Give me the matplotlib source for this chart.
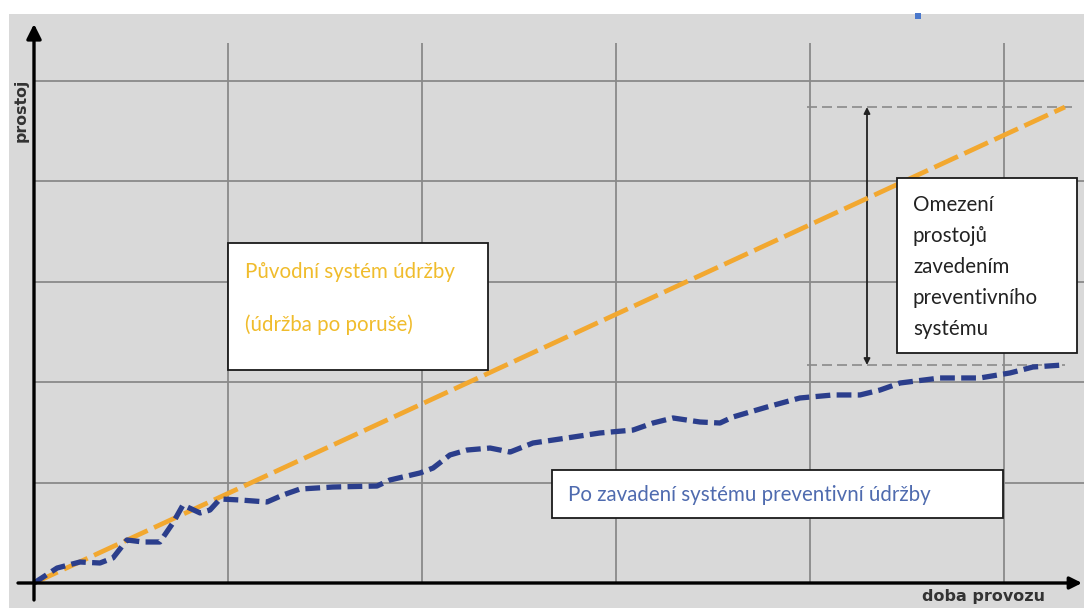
import matplotlib.pyplot as plt
from matplotlib.patches import Rectangle

W, H = 1084, 608

# grid positions (data units)
grid_x = [1, 2, 3, 4, 5]
grid_y = [1, 2, 3, 4, 5]

# original maintenance system (straight line)
orig_x = [0, 5.314]
orig_y = [0, 4.736]

# after preventive maintenance
prev_x = [0, 0.119, 0.237, 0.340, 0.407, 0.479, 0.562, 0.649, 0.716, 0.768,
          0.856, 0.907, 0.959, 1.062, 1.201, 1.284, 1.371, 1.541, 1.768, 1.835,
          1.990, 2.057, 2.144, 2.232, 2.351, 2.454, 2.572, 2.747, 2.918, 3.088,
          3.191, 3.294, 3.433, 3.536, 3.603, 3.778, 3.948, 4.119, 4.258, 4.361,
          4.464, 4.670, 4.876, 5.031, 5.149, 5.304]
prev_y = [0, 0.149, 0.209, 0.199, 0.249, 0.428, 0.408, 0.408, 0.597, 0.776,
          0.697, 0.726, 0.836, 0.826, 0.806, 0.876, 0.935, 0.955, 0.965, 1.025,
          1.095, 1.144, 1.274, 1.323, 1.343, 1.303, 1.393, 1.443, 1.493, 1.522,
          1.592, 1.642, 1.602, 1.592, 1.652, 1.751, 1.841, 1.871, 1.871, 1.920,
          1.990, 2.040, 2.040, 2.090, 2.149, 2.169]

X0, Y0, SX, SY = 34, 583, 194, 100.5

fig = plt.figure(figsize=(W / 100, H / 100), dpi=100)
ax = fig.add_axes([9 / W, 0, (W - 9) / W, (H - 14) / H])
ax.set_facecolor('#D9D9D9')
ax.set_xlim((9 - X0) / SX, (W - X0) / SX)
ax.set_ylim((Y0 - H) / SY, (Y0 - 14) / SY)
for s in ax.spines.values():
    s.set_visible(False)
ax.set_xticks([])
ax.set_yticks([])

# grid
ax.hlines(grid_y, 0, (W - X0) / SX, color='#8A8A8A', lw=1.3, zorder=1)
ax.vlines(grid_x, 0, (Y0 - 43) / SY, color='#8A8A8A', lw=1.3, zorder=1)

# axes with arrows
ax.annotate('', xy=(0, (Y0 - 24) / SY), xytext=(0, (Y0 - 600) / SY),
            arrowprops=dict(arrowstyle='-|>', lw=2.4, color='black',
                            mutation_scale=22, shrinkA=0, shrinkB=0), zorder=5)
ax.annotate('', xy=((1082 - X0) / SX, 0), xytext=((18 - X0) / SX, 0),
            arrowprops=dict(arrowstyle='-|>', lw=2.4, color='black',
                            mutation_scale=18, shrinkA=0, shrinkB=0), zorder=5)

# reduction marker
top, bot = orig_y[-1], prev_y[-1]
xs = (807 - X0) / SX
ax.hlines([top], xs, (1072 - X0) / SX, color='#8A8A8A', lw=1.2,
          linestyles=(0, (6, 3)), zorder=2)
ax.hlines([bot], xs, (1065 - X0) / SX, color='#8A8A8A', lw=1.2,
          linestyles=(0, (6, 3)), zorder=2)
ax.annotate('', xy=((867 - X0) / SX, top), xytext=((867 - X0) / SX, bot),
            arrowprops=dict(arrowstyle='<|-|>', lw=1.3, color='#222222',
                            mutation_scale=9, shrinkA=0, shrinkB=0), zorder=3)

# series
ax.plot(orig_x, orig_y, color='#F2A830', lw=3.4, dashes=(5.5, 1.5),
        dash_capstyle='butt', zorder=4)
ax.plot(prev_x, prev_y, color='#2B3E8C', lw=3.8, dashes=(2.8, 1.2),
        dash_capstyle='butt', zorder=4)


def box(x0, y0, x1, y1):
    fig.add_artist(Rectangle((x0 / W, 1 - y1 / H), (x1 - x0) / W, (y1 - y0) / H,
                             transform=fig.transFigure, fc='white',
                             ec='#1A1A1A', lw=1.3, zorder=6))


def txt(x, y, s, **kw):
    fig.text(x / W, 1 - y / H, s, zorder=7, **kw)


font = dict(family=['Lato', 'DejaVu Sans'], fontsize=14.8)

box(228, 243, 488, 370)
txt(245, 272, 'Původní systém údržby', color='#F0BC2C', va='center', **font)
txt(245, 325, '(údržba po poruše)', color='#F0BC2C', va='center', **font)

box(897, 178, 1077, 353)
for i, line in enumerate(['Omezení', 'prostojů', 'zavedením',
                          'preventivního', 'systému']):
    txt(913, 205 + i * 31, line, color='#222222', va='center', **font)

box(552, 470, 1003, 518)
txt(568, 495, 'Po zavadení systému preventivní údržby', color='#4F6BAF',
    va='center', **font)

# axis labels
label = dict(family='DejaVu Sans', fontweight='bold',
             color='#333333', ha='center', va='center')
txt(21, 110, 'prostoj', rotation=90, fontsize=11.3, **label)
txt(984, 597, 'doba provozu', fontsize=11.5, **label)

# small blue marker at top
fig.add_artist(Rectangle((915 / W, 1 - 19 / H), 6 / W, 6 / H,
                         transform=fig.transFigure, fc='#4A78CC', ec='none'))

fig.savefig('out.png', dpi=100, facecolor='white')
